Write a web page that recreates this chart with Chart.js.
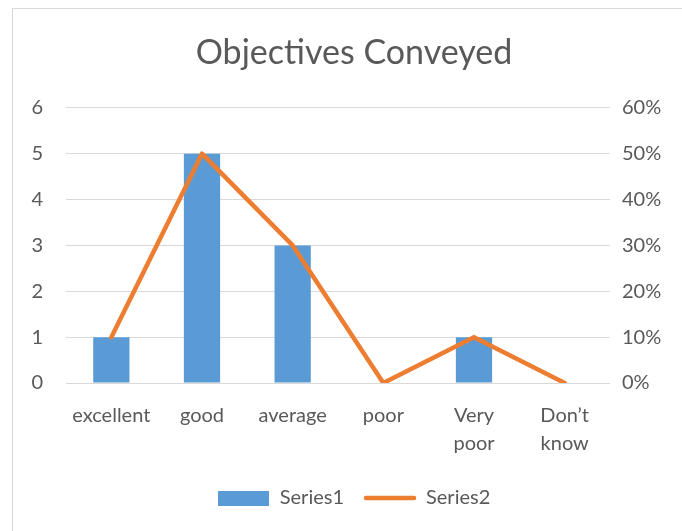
<!DOCTYPE html>
<html><head><meta charset="utf-8">
<script src="https://cdn.jsdelivr.net/npm/chart.js@4"></script>
<style>
html,body{margin:0;padding:0;background:#fff;overflow:hidden;width:682px;height:531px}
#frame{position:absolute;left:12px;top:8px;width:700px;height:560px;border:1px solid #d9d9d9;box-sizing:border-box}
#frame canvas{position:absolute;left:0;top:0}
</style></head><body>
<div id="frame"><canvas id="c" width="682" height="530"></canvas></div>
<script>
// ── data ──
const categories = ['excellent', 'good', 'average', 'poor', ['Very', 'poor'], ['Don\u2019t', 'know']];
const series1 = [1, 5, 3, 0, 1, 0];
const series2 = [0.10, 0.50, 0.30, 0, 0.10, 0];
const leftTicks = [0, 1, 2, 3, 4, 5, 6];
const rightTicks = [0, 0.1, 0.2, 0.3, 0.4, 0.5, 0.6];

const BLUE = '#5b9bd5', ORANGE = '#ed7d31', GRID = '#d9d9d9', TXT = '#595959';
const FONT = 'Lato, "Noto Sans", sans-serif';

// legend swatches
function swatch(w, h, draw) {
  const c = document.createElement('canvas'); c.width = w; c.height = h;
  draw(c.getContext('2d')); return c;
}
const barKey = swatch(51, 15, g => { g.fillStyle = BLUE; g.fillRect(0, 0, 51, 15); });
const lineKey = swatch(54, 6, g => {
  g.strokeStyle = ORANGE; g.lineWidth = 4.5; g.lineCap = 'round';
  g.beginPath(); g.moveTo(3, 3); g.lineTo(51, 3); g.stroke();
});

new Chart(document.getElementById('c'), {
  data: {
    labels: categories,
    datasets: [
      { type: 'bar', label: 'Series1', data: series1, backgroundColor: BLUE, yAxisID: 'y',
        categoryPercentage: 1, barPercentage: 0.4, order: 1, pointStyle: barKey },
      { type: 'line', label: 'Series2', data: series2, borderColor: ORANGE, backgroundColor: ORANGE,
        borderWidth: 4.5, pointRadius: 0, tension: 0, borderJoinStyle: 'round', borderCapStyle: 'round',
        yAxisID: 'y1', order: 0, pointStyle: lineKey }
    ]
  },
  options: {
    responsive: false, animation: false,
    layout: { padding: { top: 24, bottom: 21, left: 0, right: 0 } },
    plugins: {
      title: { display: true, text: 'Objectives Conveyed', color: TXT,
        font: { family: FONT, size: 34, weight: 'normal' }, padding: { top: 0, bottom: 34 } },
      legend: { position: 'bottom',
        labels: { usePointStyle: true, pointStyleWidth: 52, color: TXT, padding: 20,
          font: { family: FONT, size: 20 }, sort: (a, b) => a.datasetIndex - b.datasetIndex } },
      tooltip: { enabled: false }
    },
    scales: {
      x: {
        afterFit: s => { s.height = 85; },
        grid: { display: false, drawTicks: false }, border: { display: false },
        ticks: { color: TXT, font: { family: FONT, size: 20, lineHeight: 1.4 }, padding: 19, maxRotation: 0 }
      },
      y: {
        position: 'left', min: 0, max: 6,
        afterBuildTicks: s => { s.ticks = leftTicks.map(v => ({ value: v })); },
        afterFit: s => { s.width = 53; },
        grid: { color: GRID, lineWidth: 1, drawTicks: false }, border: { display: false },
        ticks: { color: TXT, font: { family: FONT, size: 20 }, padding: 23 }
      },
      y1: {
        position: 'right', min: 0, max: 0.6,
        afterBuildTicks: s => { s.ticks = rightTicks.map(v => ({ value: v })); },
        afterFit: s => { s.width = 85; },
        grid: { display: false, drawTicks: false }, border: { display: false },
        ticks: { color: TXT, font: { family: FONT, size: 20 }, padding: 12,
          callback: v => Math.round(v * 100) + '%' }
      }
    }
  }
});
</script>
</body></html>
